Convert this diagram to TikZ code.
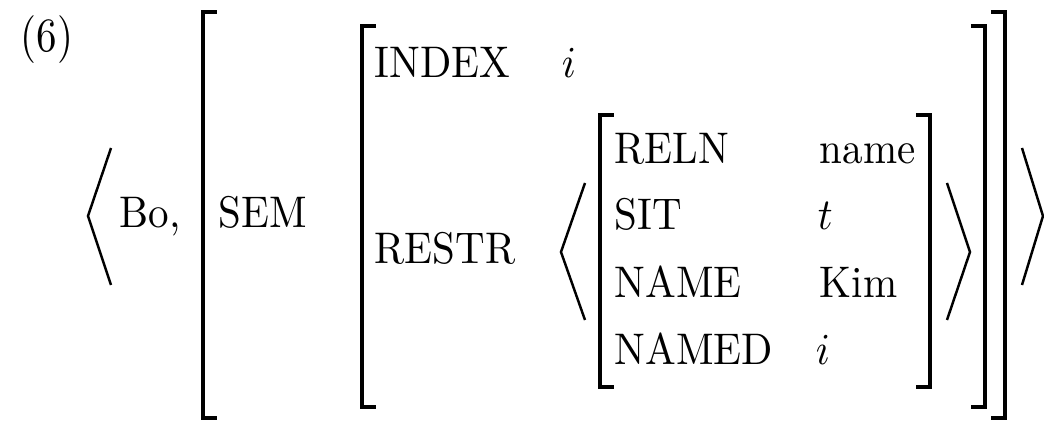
\documentclass[tikz,border=0pt]{standalone}
\usepackage{tikz}
\usetikzlibrary{positioning}
\begin{document}
\begin{tikzpicture}[x=0.2439pt,y=-0.2439pt,
  txt/.style={anchor=base west,inner sep=0pt,yscale=1.08,transform shape},
  brak/.style={line width=0.75pt},
  angl/.style={line width=0.6pt}]
\useasboundingbox (0,0) rectangle (1044,422);
\node[txt,yscale=1.08] (num) at (20,52) {(6)};
\node[txt] (bo) at (119,228) {Bo,};
\node[txt] (sem) at (218,228) {SEM};
\node[txt] (index) at (374,78) {INDEX};
\node[txt] (indexval) at (561,78) {$i$};
\node[txt] (restr) at (374,263) {RESTR};
% the one relation in the list
\node[txt] (reln) at (614,164) {RELN};
\node[txt] (sit) at (614,230) {SIT};
\node[txt] (name) at (614,297) {NAME};
\node[txt] (named) at (614,364) {NAMED};
\node[txt] (relnval) at (819,164) {name};
\node[txt] (sitval) at (817,230) {$t$};
\node[txt] (nameval) at (819,297) {Kim};
\node[txt] (namedval) at (815,364) {$i$};
% square brackets
\foreach \X/\T/\B in {203/12/418,362/26/407,600/115/387}
{\draw[brak] (\X+14,\T) -- (\X,\T) -- (\X,\B) -- (\X+14,\B);}
\foreach \X/\T/\B in {1005/12/418,985/26/407,930/115/387}
{\draw[brak] (\X-14,\T) -- (\X,\T) -- (\X,\B) -- (\X-14,\B);}
% angle brackets
\draw[angl] (111,148) -- (88,216) -- (111,285);
\draw[angl] (1022,148) -- (1043,216) -- (1022,285);
\draw[angl] (585,183) -- (561,252) -- (585,320);
\draw[angl] (947,183) -- (970,252) -- (947,320);
\end{tikzpicture}
\end{document}
